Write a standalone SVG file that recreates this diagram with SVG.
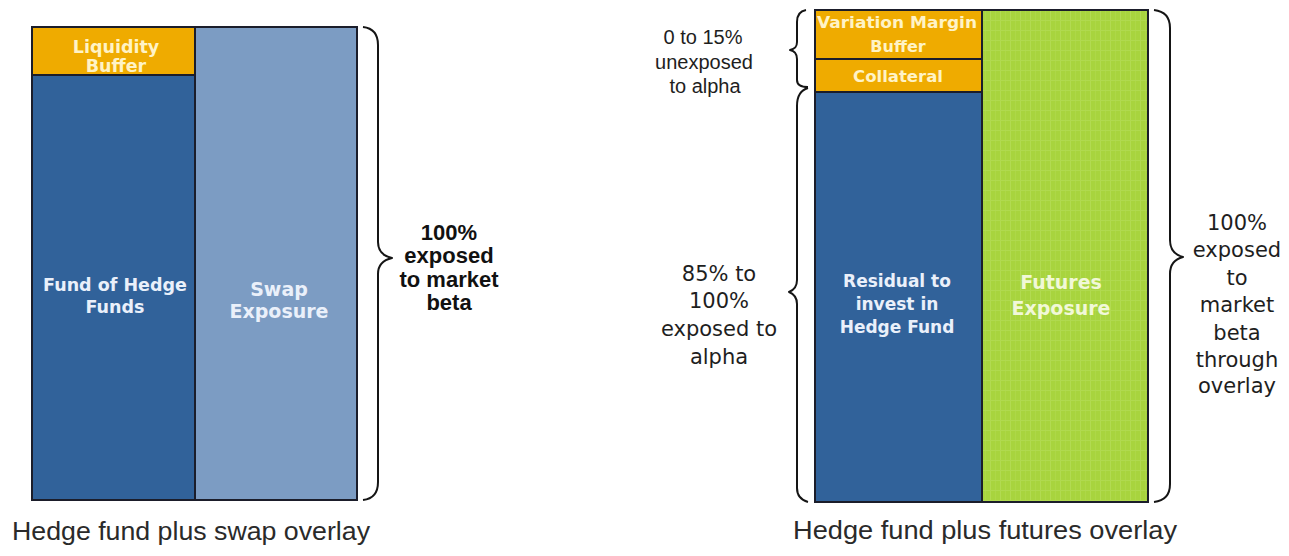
<svg xmlns="http://www.w3.org/2000/svg" width="1289" height="556" viewBox="0 0 1289 556">
  <defs>
    <style>
      .box { stroke: #1b1d2a; stroke-width: 2; }
      .buffer { fill: #EFAB00; }
      .fund { fill: #31629A; }
      .swap { fill: #7C9CC3; }
      .brace { fill: none; stroke: #151515; stroke-width: 2; stroke-linejoin: round; }
      .lbl { font-family: "DejaVu Sans", Verdana, sans-serif; font-weight: bold; text-anchor: middle; }
      .on-buffer { fill: #FFF3C6; }
      .on-blue { fill: #EAF0FA; }
      .on-green { fill: #F1F8D8; }
      .note { font-family: "DejaVu Sans", Verdana, sans-serif; fill: #1e1e1e; text-anchor: middle; }
      .note-sans { font-family: "Liberation Sans", Arial, sans-serif; fill: #1e1e1e; text-anchor: middle; }
      .beta { font-family: "Liberation Sans", Arial, sans-serif; font-weight: bold; fill: #111; text-anchor: middle; font-size: 22px; }
      .caption { font-family: "Liberation Sans", Arial, sans-serif; fill: #2a2a2a; font-size: 25px; }
    </style>
    <!-- faint plaid texture of the futures block -->
    <pattern id="plaid" width="10" height="10" patternUnits="userSpaceOnUse">
      <rect width="10" height="10" fill="#A8D43E"/>
      <rect x="0" y="0" width="1" height="10" fill="#B2DA52"/>
      <rect x="5" y="0" width="1" height="10" fill="#ADD748"/>
      <rect x="0" y="0" width="10" height="1" fill="#B0D94F"/>
    </pattern>
  </defs>

  <!-- Left: hedge fund plus swap overlay -->
  <g id="liquidity-buffer">
    <rect class="box buffer" x="32" y="27" width="163" height="48"/>
    <text class="lbl on-buffer" x="116" y="53" font-size="17.5">Liquidity</text>
    <text class="lbl on-buffer" x="116" y="72" font-size="17.5">Buffer</text>
  </g>
  <g id="fund-of-hedge-funds">
    <rect class="box fund" x="32" y="75" width="163" height="425"/>
    <text class="lbl on-blue" x="115" y="291" font-size="17.5">Fund of Hedge</text>
    <text class="lbl on-blue" x="115" y="313" font-size="17.5">Funds</text>
  </g>
  <g id="swap-exposure">
    <rect class="box swap" x="195" y="27" width="162" height="473"/>
    <text class="lbl on-blue" x="279" y="296" font-size="19">Swap</text>
    <text class="lbl on-blue" x="279" y="318" font-size="19">Exposure</text>
  </g>

  <!-- Right: hedge fund plus futures overlay -->
  <g id="variation-margin-buffer">
    <rect class="box buffer" x="815" y="10" width="167" height="49"/>
    <text class="lbl on-buffer" x="897" y="28" font-size="16" textLength="160" lengthAdjust="spacingAndGlyphs">Variation Margin</text>
    <text class="lbl on-buffer" x="898" y="52" font-size="16">Buffer</text>
  </g>
  <g id="collateral">
    <rect class="box buffer" x="815" y="59" width="167" height="33"/>
    <text class="lbl on-buffer" x="898" y="82" font-size="16.5">Collateral</text>
  </g>
  <g id="residual-hedge-fund">
    <rect class="box fund" x="815" y="92" width="167" height="410"/>
    <text class="lbl on-blue" x="897" y="287" font-size="17">Residual to</text>
    <text class="lbl on-blue" x="897" y="310" font-size="17">invest in</text>
    <text class="lbl on-blue" x="897" y="333" font-size="17">Hedge Fund</text>
  </g>
  <g id="futures-exposure">
    <rect class="box" x="982" y="10" width="166" height="492" fill="url(#plaid)"/>
    <text class="lbl on-green" x="1061" y="289" font-size="19">Futures</text>
    <text class="lbl on-green" x="1061" y="315" font-size="19">Exposure</text>
  </g>

  <!-- Braces -->
  <g id="connectors">
    <path class="brace" d="M363,27 C372,28 378,33 378,45 L378,242 C378,251 383,256 392,258 C383,260 378,265 378,274 L378,482 C378,494 372,499 363,500"/>
    <path class="brace" d="M1154,10 C1163,11 1170,16 1170,28 L1170,240 C1170,250 1175,255 1183,257 C1175,259 1170,264 1170,274 L1170,484 C1170,496 1163,501 1154,502"/>
    <path class="brace" d="M806,10 C800,11 797,15 797,22 L797,42 C797,47 795,49 790,50 C795,51 797,54 797,59 L797,80 C797,85 801,87 808,87"/>
    <path class="brace" d="M808,88 C801,90 797,96 797,106 L797,280 C797,287 794,290 789,292 C794,294 797,297 797,304 L797,488 C797,496 801,500 808,502"/>
  </g>

  <!-- Annotations -->
  <g id="beta-note">
    <text class="beta" x="449" y="240">100%</text>
    <text class="beta" x="449" y="263">exposed</text>
    <text class="beta" x="449" y="287">to market</text>
    <text class="beta" x="449" y="310">beta</text>
  </g>
  <g id="unexposed-note" font-size="20">
    <text class="note-sans" x="703" y="44">0 to 15%</text>
    <text class="note-sans" x="704" y="69">unexposed</text>
    <text class="note-sans" x="705" y="93">to alpha</text>
  </g>
  <g id="alpha-note" font-size="21">
    <text class="note" x="719" y="281">85% to</text>
    <text class="note" x="719" y="308">100%</text>
    <text class="note" x="719" y="336">exposed to</text>
    <text class="note" x="719" y="364">alpha</text>
  </g>
  <g id="overlay-note" font-size="21">
    <text class="note" x="1237" y="230">100%</text>
    <text class="note" x="1237" y="257">exposed</text>
    <text class="note" x="1237" y="285">to</text>
    <text class="note" x="1237" y="312">market</text>
    <text class="note" x="1237" y="340">beta</text>
    <text class="note" x="1237" y="367">through</text>
    <text class="note" x="1237" y="393">overlay</text>
  </g>

  <!-- Captions -->
  <text class="caption" x="12" y="540" textLength="358" lengthAdjust="spacingAndGlyphs">Hedge fund plus swap overlay</text>
  <text class="caption" x="793" y="539" textLength="384" lengthAdjust="spacingAndGlyphs">Hedge fund plus futures overlay</text>
</svg>
